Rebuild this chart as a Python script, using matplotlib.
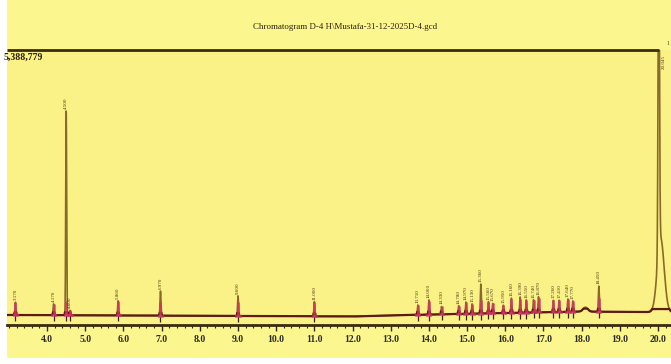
import numpy as np
import matplotlib
matplotlib.use("Agg")
import matplotlib.pyplot as plt
from matplotlib.patches import Rectangle

# peak table (retention time in min, height in counts)
rt = [3.17, 4.17, 4.50, 4.60, 5.86, 6.97, 9.00, 11.00, 13.71, 14.00, 14.33,
      14.78, 14.97, 15.13, 15.36, 15.56, 15.67, 15.95, 16.16, 16.39, 16.55,
      16.74, 16.87, 17.26, 17.41, 17.64, 17.77, 18.45]
height = [260e3, 230e3, 4160e3, 100e3, 300e3, 500e3, 410e3, 300e3, 200e3, 300e3,
          160e3, 170e3, 240e3, 200e3, 600e3, 240e3, 200e3, 160e3, 300e3, 320e3,
          260e3, 260e3, 320e3, 240e3, 240e3, 260e3, 220e3, 520e3]

# unlabelled features of the trace
bump_rt = [18.10, 20.02, 20.07]
bump_h = [90e3, 6500e3, 1500e3]
bump_w = [0.06, 0.018, 0.09]

# slow baseline drift
drift_t = [3.0, 12.0, 13.5, 16.0, 18.0, 19.5, 20.5]
drift_y = [0, -30e3, 0, 40e3, 70e3, 60e3, 60e3]

y_max = 5388779
title = "Chromatogram D-4 H\\Mustafa-31-12-2025D-4.gcd"

W, H = 671, 364
fig = plt.figure(figsize=(W / 100, H / 100), dpi=100, facecolor="white")
fig.patches.append(Rectangle((7 / W, 6 / H), 1 - 7 / W, 1 - 6 / H, transform=fig.transFigure,
                             facecolor="#fcf68e", edgecolor="none", zorder=-5))

ax = fig.add_axes([7 / W, 1 - 325 / H, (W - 7) / W, (325 - 50) / H])
ax.set_facecolor("#faf287")

t = np.linspace(2.9, 20.4, 8000)
base = np.interp(t, drift_t, drift_y)
sig = base.copy()
for r, h in zip(rt, height):
    sig += h * np.exp(-0.5 * ((t - r) / 0.012) ** 2)
for r, h, w in zip(bump_rt, bump_h, bump_w):
    sig += h * np.exp(-0.5 * ((t - r) / w) ** 2)

px = y_max / 265.0
ax.plot(t, sig, color="#8a6a2c", lw=1.2, zorder=3)
ax.plot(t, np.minimum(sig, base + 3 * px), color="#5c1c12", lw=1.6, zorder=4)

# integration markers and peak labels
for r, h in zip(rt, height):
    b = np.interp(r, drift_t, drift_y)
    ax.vlines(r, b - 6 * px, b, color="#3a2010", lw=0.9, zorder=5)
    ax.vlines(r, b, b + min(h, 14 * px), color="#d8306a", lw=1.8, alpha=0.85, zorder=5)
    ax.plot([r - 0.04, r + 0.04], [b, b], color="#d8306a", lw=2, alpha=0.7, zorder=5)
    ax.text(r, b + h + 2 * px, f"{r:.3f}", rotation=90, ha="center", va="bottom",
            fontsize=3.6, color="#4a3010", family="Liberation Serif", zorder=6)
ax.text(20.1, y_max - 5 * px, "20.045", rotation=90, ha="left", va="top",
        fontsize=3.6, color="#4a3010", family="Liberation Serif")
ax.text(20.27, y_max + 4 * px, "1", ha="center", va="bottom",
        fontsize=4, color="#4a3010", family="Liberation Serif", clip_on=False)

ax.set_xlim(2.95, 20.34)
ax.set_ylim(-10 * px, y_max)
# top frame line stops at the big peak
ax.hlines(y_max, 2.95, 20.03, color="#3a2c10", lw=2, zorder=6, clip_on=False)
ax.set_xticks(np.arange(4, 21, 1.0))
ax.set_xticklabels([f"{v:.1f}" for v in np.arange(4, 21, 1.0)],
                   fontsize=7, fontweight="bold", family="Liberation Serif", color="#2a2a20")
ax.set_xticks(np.arange(3.0, 20.4, 0.2), minor=True)
ax.tick_params(axis="x", which="major", length=4, width=1, color="#2a2a20", pad=3)
ax.tick_params(axis="x", which="minor", length=2, width=0.8, color="#2a2a20")
ax.set_yticks([])
for s in ["left", "right", "top"]:
    ax.spines[s].set_visible(False)
ax.spines["bottom"].set_linewidth(2)
ax.spines["bottom"].set_color("#3a2c10")

fig.text(345 / W, 1 - 27 / H, title, ha="center", va="center", fontsize=6.4,
         family="Liberation Serif", color="#2a2010")
fig.text(4 / W, 1 - 57 / H, "5,388,779", ha="left", va="center", fontsize=7,
         fontweight="bold", family="Liberation Serif", color="#2a2010")

fig.savefig("out.png", dpi=100, facecolor=fig.get_facecolor())
